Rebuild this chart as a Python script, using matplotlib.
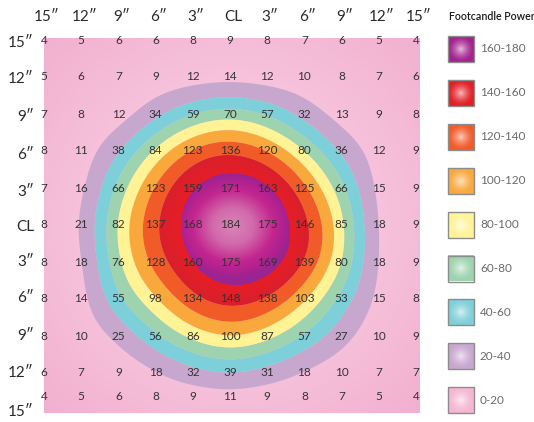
import numpy as np
import matplotlib
matplotlib.use('Agg')
import matplotlib.pyplot as plt
from matplotlib.colors import LinearSegmentedColormap, to_rgb

# ---------------- data ----------------
values = [
    [4, 5, 6, 6, 8, 9, 8, 7, 6, 5, 4],
    [5, 6, 7, 9, 12, 14, 12, 10, 8, 7, 6],
    [7, 8, 12, 34, 59, 70, 57, 32, 13, 9, 8],
    [8, 11, 38, 84, 123, 136, 120, 80, 36, 12, 9],
    [7, 16, 66, 123, 159, 171, 163, 125, 66, 15, 9],
    [8, 21, 82, 137, 168, 184, 175, 146, 85, 18, 9],
    [8, 18, 76, 128, 160, 175, 169, 139, 80, 18, 9],
    [8, 14, 55, 98, 134, 148, 138, 103, 53, 15, 8],
    [8, 10, 25, 56, 86, 100, 87, 57, 27, 10, 9],
    [6, 7, 9, 18, 32, 39, 31, 18, 10, 7, 7],
    [4, 5, 6, 8, 9, 11, 9, 8, 7, 5, 4],
]
col_labels = ['15\u2033', '12\u2033', '9\u2033', '6\u2033', '3\u2033', 'CL',
              '3\u2033', '6\u2033', '9\u2033', '12\u2033', '15\u2033']
row_labels = ['15\u2033', '12\u2033', '9\u2033', '6\u2033', '3\u2033', 'CL',
              '3\u2033', '6\u2033', '9\u2033', '12\u2033', '15\u2033']
legend_title = 'Footcandle Power'
legend_labels = ['160-180', '140-160', '120-140', '100-120', '80-100',
                 '60-80', '40-60', '20-40', '0-20']
band_levels = [20, 40, 60, 80, 100, 120, 140, 160]

# ---------------- styles ----------------
band_colors = ['#c8a7cf', '#7dcfd9', '#9dd3ae', '#fff396', '#f9a83c',
               '#f15b28', '#de1f2b']
legend_colors = ['#a3228e', '#e11f26', '#f15b28', '#f9a83c', '#fff396',
                 '#9dd3ae', '#7dcfd9', '#c8a7cf', '#f5b6d3']
FONT = ['Lato', 'DejaVu Sans']
plt.rcParams['font.family'] = FONT

W, H = 534, 422
fig = plt.figure(figsize=(W / 100, H / 100), dpi=100)

# plot area (pixel coordinates)
L, R, T, B = 44, 420, 37.5, 413
ax = fig.add_axes([L / W, 1 - B / H, (R - L) / W, (B - T) / H])
ax.set_xlim(L, R)
ax.set_ylim(B, T)
ax.axis('off')

# cell centers
xs = 44 + 37.2 * np.arange(11)
ys = np.append(40 + 37.0 * np.arange(10), 397)

# background radial pink gradient
gx, gy = np.meshgrid(np.linspace(L, R, 200), np.linspace(T, B, 200))
rr = np.hypot(gx - 232, gy - 225) / 266
bg_cmap = LinearSegmentedColormap.from_list('bg', ['#f9cfe2', '#f6c0da', '#f2b0d0'])
ax.imshow(rr, extent=(L, R, B, T), cmap=bg_cmap, vmin=0.2, vmax=1.0,
          origin='upper', aspect='auto', zorder=0, interpolation='bilinear')


def spline_matrix(x, xn):
    """Natural cubic spline interpolation matrix."""
    n = len(x)
    h = np.diff(x)
    A = np.zeros((n, n))
    A[0, 0] = 1
    A[-1, -1] = 1
    Bm = np.zeros((n, n))
    for i in range(1, n - 1):
        A[i, i - 1] = h[i - 1]
        A[i, i] = 2 * (h[i - 1] + h[i])
        A[i, i + 1] = h[i]
        Bm[i, i - 1] = 6 / h[i - 1]
        Bm[i, i] = -6 / h[i - 1] - 6 / h[i]
        Bm[i, i + 1] = 6 / h[i]
    Msec = np.linalg.solve(A, Bm)
    out = np.zeros((len(xn), n))
    idx = np.clip(np.searchsorted(x, xn) - 1, 0, n - 2)
    for k, xv in enumerate(xn):
        i = idx[k]
        hi = h[i]
        a = (x[i + 1] - xv) / hi
        b = (xv - x[i]) / hi
        out[k, i] += a
        out[k, i + 1] += b
        out[k] += ((a ** 3 - a) * Msec[i] + (b ** 3 - b) * Msec[i + 1]) * hi ** 2 / 6
    return out


def blur(Zin, s):
    r = int(3 * s)
    k = np.exp(-0.5 * (np.arange(-r, r + 1) / s) ** 2)
    k /= k.sum()
    P = np.pad(Zin, r, mode='edge')
    P = np.apply_along_axis(lambda m: np.convolve(m, k, 'valid'), 0, P)
    P = np.apply_along_axis(lambda m: np.convolve(m, k, 'valid'), 1, P)
    return P


V = np.array(values, dtype=float)
xf = np.linspace(xs[0], xs[-1], 400)
yf = np.linspace(ys[0], ys[-1], 400)
Z = spline_matrix(ys, yf) @ V @ spline_matrix(xs, xf).T
Z = blur(Z, 9)
XF, YF = np.meshgrid(xf, yf)

ax.contourf(XF, YF, Z, levels=band_levels, colors=band_colors, zorder=1,
            antialiased=True)
red_cmap = LinearSegmentedColormap.from_list('red', ['#d6202d', '#e81d25'])
ax.contourf(XF, YF, Z, levels=np.linspace(140, 160, 12), cmap=red_cmap, zorder=1.5,
            antialiased=True)

# centre magenta -> pink radial glow clipped to the >=160 region
cs_top = ax.contourf(XF, YF, Z, levels=[160, 1000], colors=['#a3228e'], zorder=2)
cx, cy0 = 233, 226
gx3, gy3 = np.meshgrid(np.linspace(170, 300, 200), np.linspace(165, 285, 200))
r3 = np.hypot((gx3 - cx) / 58, (gy3 - cy0) / 52)
mag_cmap = LinearSegmentedColormap.from_list(
    'mag', [(0, '#d985b9'), (0.35, '#d26aab'), (0.7, '#c3268f'), (0.9, '#ad2190'),
            (1.0, '#9a2590')])
im = ax.imshow(r3, extent=(170, 300, 285, 165), cmap=mag_cmap, vmin=0, vmax=1.0,
               origin='upper', aspect='auto', zorder=2.5, interpolation='bilinear')
im.set_clip_path(cs_top.get_paths()[0], transform=ax.transData)

# cell values
for i, y in enumerate(ys):
    for j, x in enumerate(xs):
        ax.text(x, y, str(values[i][j]), ha='center', va='center', fontsize=8.5,
                color='#333333', zorder=5, clip_on=False)

# overlay for labels and legend
ov = fig.add_axes([0, 0, 1, 1], facecolor='none')
ov.set_xlim(0, W)
ov.set_ylim(H, 0)
ov.axis('off')

for j, lab in enumerate(col_labels):
    ov.text(xs[j] + 3, 17, lab, ha='center', va='center', fontsize=11, color='#2a2a2a')
row_label_y = [43, 79, 117, 155, 192, 227, 262, 298, 336, 373, 412]
for i, lab in enumerate(row_labels):
    ov.text(34, row_label_y[i], lab, ha='right', va='center', fontsize=11, color='#2a2a2a')

ov.text(492, 17, legend_title, ha='center', va='center', fontsize=7.7,
        color='#1a1a1a', fontweight='semibold')

sq = 26
lg_x = 448
for k, (lab, col) in enumerate(zip(legend_labels, legend_colors)):
    cyk = 49 + 43.9 * k
    gx2, gy2 = np.meshgrid(np.linspace(-1, 1, 60), np.linspace(-1, 1, 60))
    r2 = np.clip(np.hypot(gx2, gy2), 0, 1)
    c = np.array(to_rgb(col))
    centre = c + (1 - c) * 0.7
    img = centre[None, None, :] * (1 - r2[..., None]) ** 1.5 + \
        c[None, None, :] * (1 - (1 - r2[..., None]) ** 1.5)
    ov.imshow(img, extent=(lg_x, lg_x + sq, cyk + sq / 2, cyk - sq / 2), aspect='auto',
              interpolation='bilinear', zorder=3)
    ov.add_patch(plt.Rectangle((lg_x, cyk - sq / 2), sq, sq, fill=False,
                               edgecolor='#8c8c8c', lw=1.0, zorder=4))
    ov.text(480, cyk, lab, ha='left', va='center', fontsize=8.5, color='#6a6a6a')

ov.set_xlim(0, W)
ov.set_ylim(H, 0)

fig.savefig('out.png', dpi=100)
